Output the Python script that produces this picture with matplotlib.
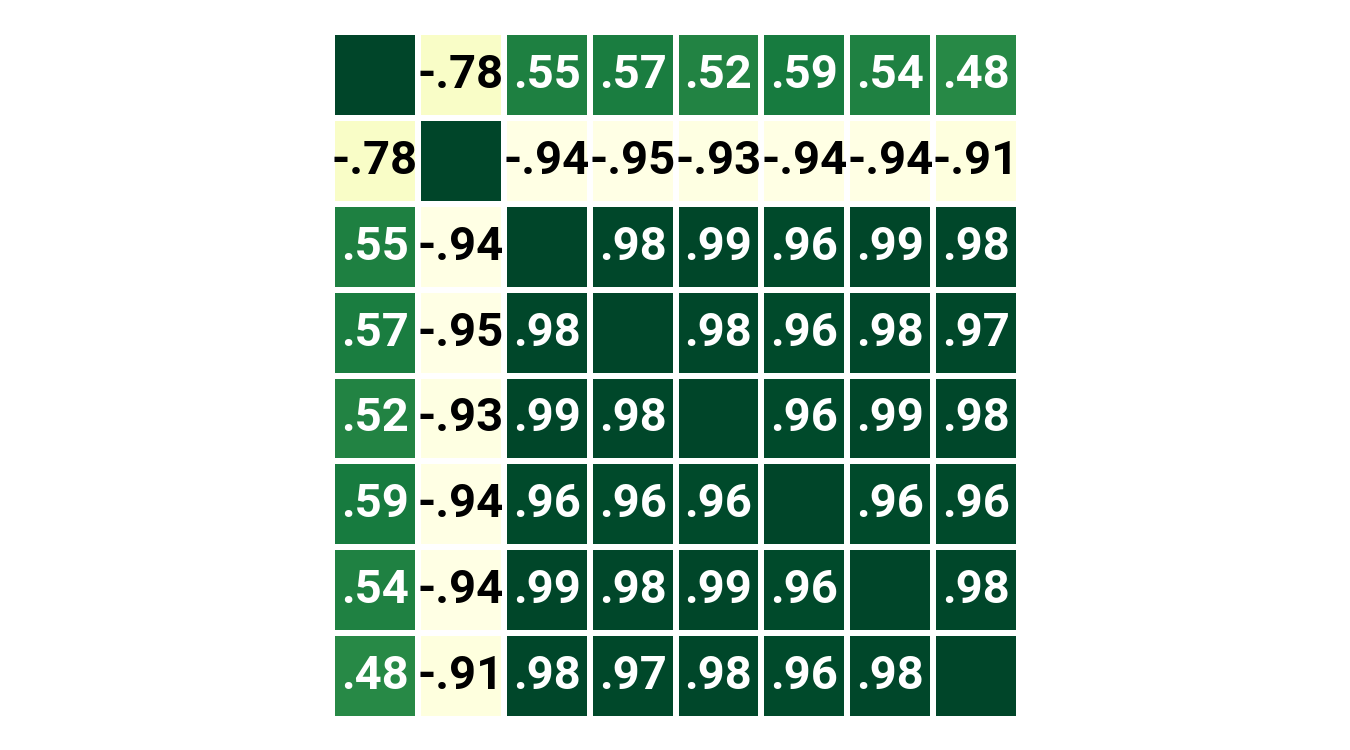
import numpy as np
import matplotlib
matplotlib.use('Agg')
import matplotlib.pyplot as plt

plt.rcParams['font.family'] = ['Roboto', 'DejaVu Sans']

# correlation matrix values (diagonal = 1, not annotated)
row0 = [1.00, -0.78, 0.55, 0.57, 0.52, 0.59, 0.54, 0.48]
row1 = [-0.78, 1.00, -0.94, -0.95, -0.93, -0.94, -0.94, -0.91]
row2 = [0.55, -0.94, 1.00, 0.98, 0.99, 0.96, 0.99, 0.98]
row3 = [0.57, -0.95, 0.98, 1.00, 0.98, 0.96, 0.98, 0.97]
row4 = [0.52, -0.93, 0.99, 0.98, 1.00, 0.96, 0.99, 0.98]
row5 = [0.59, -0.94, 0.96, 0.96, 0.96, 1.00, 0.96, 0.96]
row6 = [0.54, -0.94, 0.99, 0.98, 0.99, 0.96, 1.00, 0.98]
row7 = [0.48, -0.91, 0.98, 0.97, 0.98, 0.96, 0.98, 1.00]

corr = np.array([row0, row1, row2, row3, row4, row5, row6, row7])
n = corr.shape[0]

fig = plt.figure(figsize=(13.5, 7.5), dpi=100, facecolor='white')
ax = fig.add_axes([332 / 1350, 31 / 750, 687 / 1350, 687 / 750])

cmap = plt.get_cmap('YlGn')
vmin, vmax = corr.min(), corr.max()
ax.pcolormesh(corr, cmap=cmap, vmin=vmin, vmax=vmax,
              edgecolors='white', linewidth=4.3)
ax.set_xlim(0, n)
ax.set_ylim(n, 0)
ax.set_aspect('equal')
ax.axis('off')

def fmt(v):
    s = f'{v:.2f}'
    return s.replace('0.', '.', 1)

for i in range(n):
    for j in range(n):
        if i == j:
            continue
        v = corr[i, j]
        frac = (v - vmin) / (vmax - vmin)
        col = 'white' if frac > 0.5 else 'black'
        ax.text(j + 0.5, i + 0.5, fmt(v), ha='center', va='center',
                fontsize=34, fontweight='bold', color=col)

fig.savefig('out.png', dpi=100, facecolor='white')
